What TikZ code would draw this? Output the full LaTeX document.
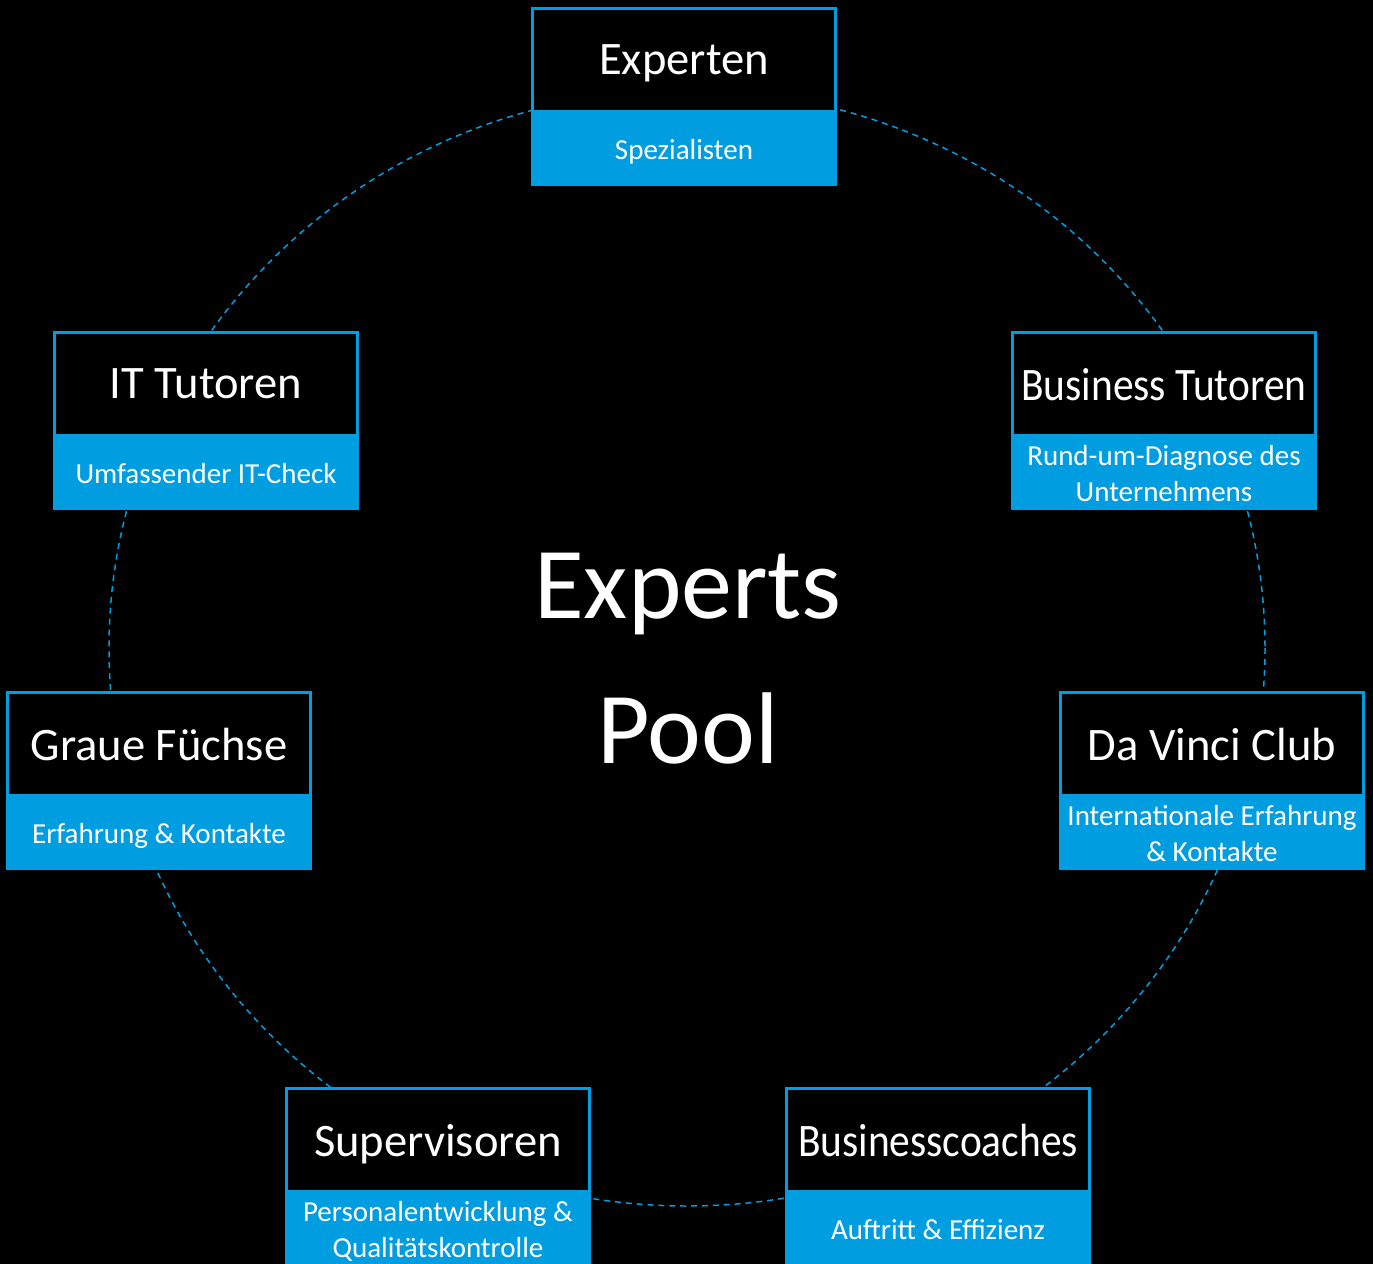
\documentclass[tikz,border=0pt]{standalone}
\usepackage{fontspec}
\setmainfont{Carlito}
\newfontfamily\schmal{Carlito}[FakeStretch=0.89]
\usetikzlibrary{positioning}
\definecolor{azul}{RGB}{0,158,224}

\begin{document}
\begin{tikzpicture}[x=0.02cm, y=-0.02cm,
  titulo/.style={draw=azul, line width=0.06cm, fill=black, text=white,
    minimum width=6.06cm, minimum height=2.06cm, inner sep=0pt, text depth=0pt,
    font=\fontsize{26.5}{30}\selectfont},
  pie/.style={fill=azul, text=white, minimum width=6.12cm, minimum height=1.46cm,
    inner sep=0pt, text depth=0pt, align=center, font=\fontsize{16.5}{20.4}\selectfont},
  centro/.style={text=white, inner sep=0pt, font=\fontsize{58}{70}\selectfont}]

  % Fondo negro
  \fill[black] (0,0) rectangle (1373,1264);
  \useasboundingbox (0,0) rectangle (1373,1264);
  \clip (0,0) rectangle (1373,1264);

  % Elipse discontinua
  \draw[azul, line width=0.85pt, dash pattern=on 3.4pt off 2.8pt]
    (687,648) ellipse [x radius=578, y radius=558];

  % Texto central
  \node[centro, anchor=base] (experts) at (688,618) {Experts};
  \node[centro, anchor=base] (pool) at (688,763) {Pool};

  % Experten
  \node[titulo] (experten) at (684,60) {Experten};
  \node[pie, below=0pt of experten] (spezialisten) {Spezialisten};

  % IT Tutoren
  \node[titulo] (ittutoren) at (206,384) {IT Tutoren};
  \node[pie, below=0pt of ittutoren] (itcheck) {Umfassender IT-Check};

  % Business Tutoren
  \node[titulo, font=\fontsize{26.5}{30}\schmal] (bustutoren) at (1164,384) {Business Tutoren};
  \node[pie, below=0pt of bustutoren] (diagnose) {Rund-um-Diagnose des\\Unternehmens};

  % Graue Fuechse
  \node[titulo] (fuechse) at (159,744) {Graue Füchse};
  \node[pie, below=0pt of fuechse] (erfahrung) {Erfahrung \& Kontakte};

  % Da Vinci Club
  \node[titulo] (davinci) at (1212,744) {Da Vinci Club};
  \node[pie, below=0pt of davinci] (international) {Internationale Erfahrung\\\& Kontakte};

  % Supervisoren
  \node[titulo] (supervisoren) at (438,1140) {Supervisoren};
  \node[pie, below=0pt of supervisoren] (personal) {Personalentwicklung \&\\Qualitätskontrolle};

  % Businesscoaches
  \node[titulo, font=\fontsize{26.5}{30}\schmal] (coaches) at (938,1140) {Businesscoaches};
  \node[pie, below=0pt of coaches] (auftritt) {Auftritt \& Effizienz};

\end{tikzpicture}
\end{document}
